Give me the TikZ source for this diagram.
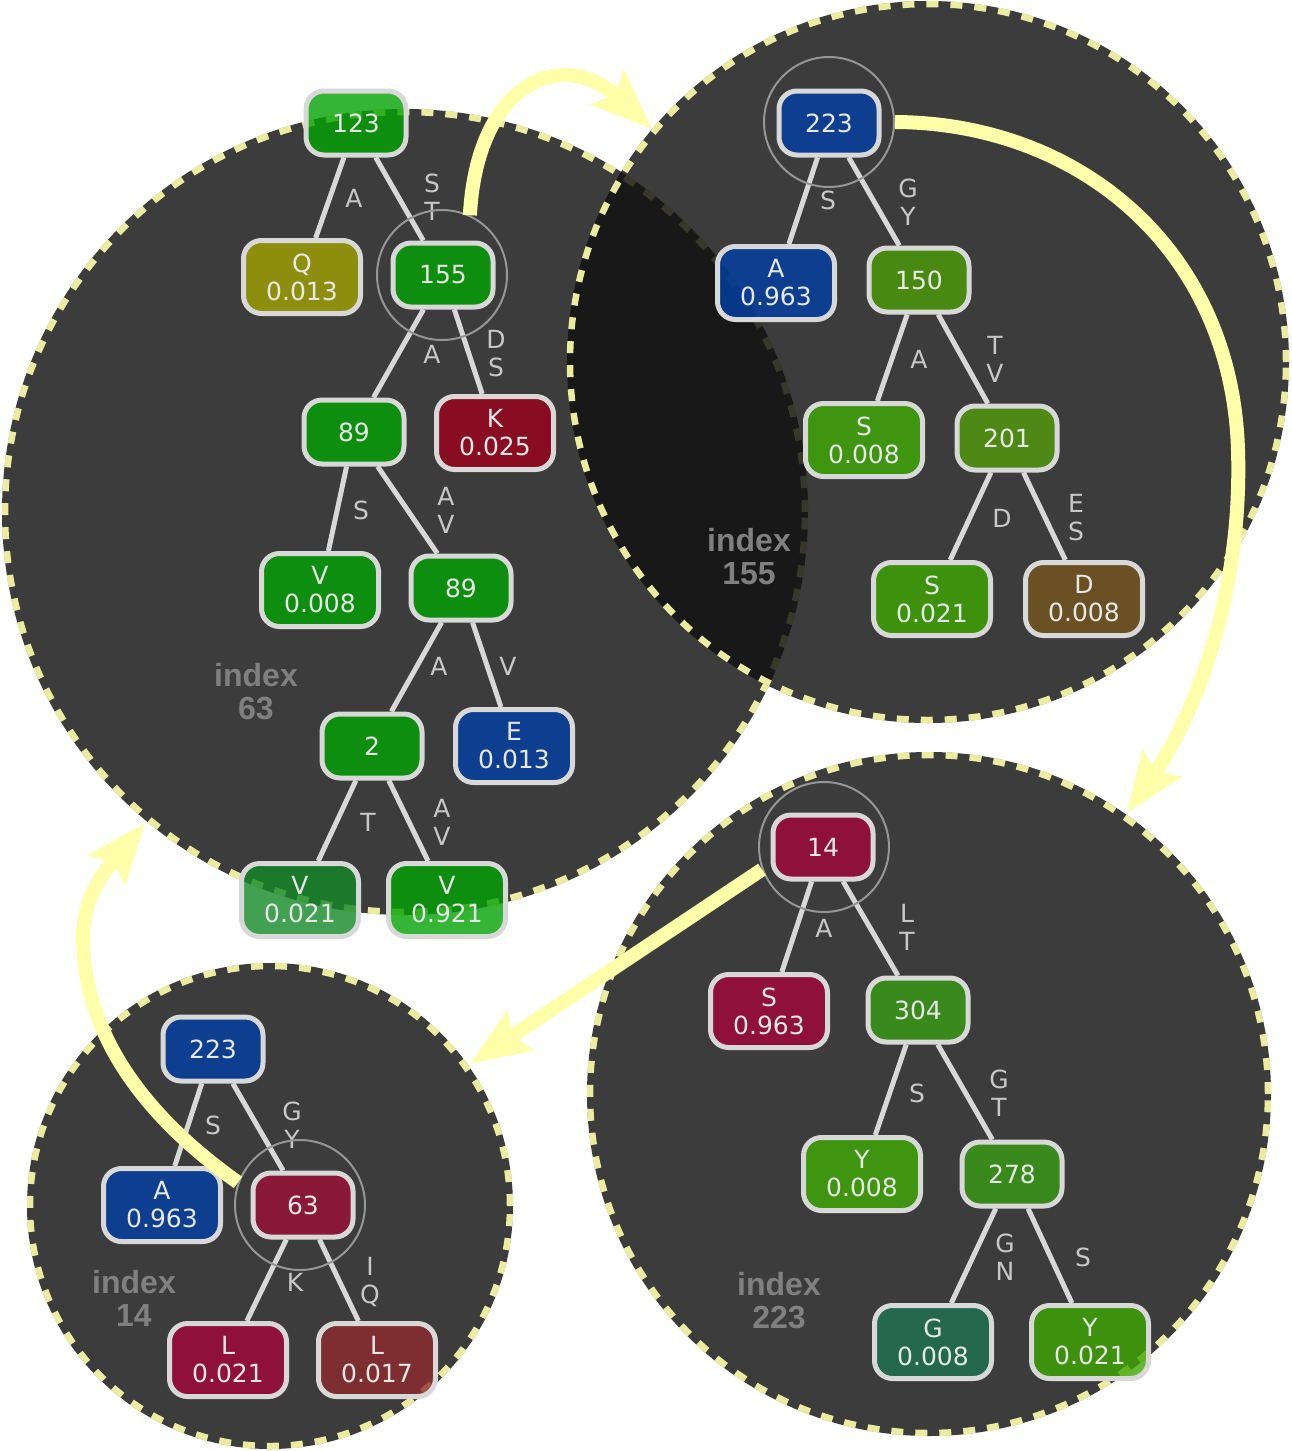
\documentclass[tikz,border=0pt]{standalone}
\usepackage{fontspec}
\setmainfont{DejaVu Sans}
\newfontfamily\idxfont{Liberation Sans}
\usetikzlibrary{arrows.meta}
\definecolor{circfill}{RGB}{16,16,16}
\definecolor{dashcol}{RGB}{236,236,160}
\definecolor{edgecol}{RGB}{216,216,216}
\definecolor{labcol}{RGB}{200,200,200}
\definecolor{txtcol}{RGB}{232,232,232}
\definecolor{idxcol}{RGB}{128,128,128}
\definecolor{arrcol}{RGB}{255,255,170}
\definecolor{hlcol}{RGB}{150,150,150}
\definecolor{cgreen}{RGB}{3,163,3}
\definecolor{colive}{RGB}{163,163,3}
\definecolor{ccrimA}{RGB}{158,0,28}
\definecolor{cblue}{RGB}{2,63,165}
\definecolor{cdkgreen}{RGB}{18,137,38}
\definecolor{colgreen}{RGB}{77,157,7}
\definecolor{cgreentwo}{RGB}{64,170,5}
\definecolor{colgreentwo}{RGB}{82,157,10}
\definecolor{cgreenthree}{RGB}{62,167,2}
\definecolor{cbrown}{RGB}{118,85,28}
\definecolor{ccrimB}{RGB}{165,5,60}
\definecolor{cgreenfour}{RGB}{58,157,20}
\definecolor{cteal}{RGB}{30,115,85}
\definecolor{ccrimC}{RGB}{158,15,55}
\definecolor{cbrownred}{RGB}{143,43,45}
\begin{document}
\begin{tikzpicture}[x=1pt,y=-1pt,
  bub/.style={fill=circfill,fill opacity=0.815},
  bubedge/.style={draw=dashcol,line width=6.5pt,dash pattern=on 12pt off 12pt},
  tnode/.style={draw=edgecol,line width=5pt,rounded corners=18pt,fill opacity=0.8,text opacity=1,text=txtcol,font=\fontsize{25}{28}\selectfont,align=center,inner sep=0pt},
  inode/.style={tnode,minimum width=100pt,minimum height=64pt},
  lnode/.style={tnode,minimum width=117pt,minimum height=73pt},
  tedge/.style={draw=edgecol,line width=5pt},
  elab/.style={text=labcol,font=\fontsize{25}{28}\selectfont,align=center,inner sep=0pt},
  idx/.style={text=idxcol,font=\idxfont\bfseries\fontsize{32}{33}\selectfont,align=center,inner sep=0pt},
  hl/.style={draw=hlcol,line width=2pt},
  flow/.style={draw=arrcol,line width=14pt,-{Stealth[length=60pt,width=46pt,inset=10pt]}}
]
\fill[white] (0,0) rectangle (1292,1451);
\useasboundingbox (0,0) rectangle (1292,1451);
% bubbles
\fill[bub] (405,512) circle[radius=403pt];
\draw[bubedge] (405,512) circle[radius=400pt];
\fill[bub] (928,362) circle[radius=361pt];
\draw[bubedge] (928,362) circle[radius=358pt];
\fill[bub] (929,1094) circle[radius=342pt];
\draw[bubedge] (929,1094) circle[radius=339pt];
\fill[bub] (270,1206) circle[radius=243pt];
\draw[bubedge] (270,1206) circle[radius=240pt];
% index labels
\node[idx] (iA) at (256,692) {index\\63};
\node[idx] (iB) at (749,557) {index\\155};
\node[idx] (iC) at (779,1301) {index\\223};
\node[idx] (iD) at (134,1298) {index\\14};
% tree A
\node[inode,fill=cgreen] (a1) at (356,123) {123};
\node[lnode,fill=colive] (a2) at (302,277) {Q\\0.013};
\node[inode,fill=cgreen] (a3) at (443,275) {155};
\node[inode,fill=cgreen] (a4) at (354,432) {89};
\node[lnode,fill=ccrimA] (a5) at (495,433) {K\\0.025};
\node[lnode,fill=cgreen] (a6) at (320,590) {V\\0.008};
\node[inode,fill=cgreen] (a7) at (461,588) {89};
\node[inode,fill=cgreen] (a8) at (372,746) {2};
\node[lnode,fill=cblue] (a9) at (514,746) {E\\0.013};
\node[lnode,fill=cdkgreen] (a10) at (300,900) {V\\0.021};
\node[lnode,fill=cgreen] (a11) at (447,900) {V\\0.921};
\draw[tedge] (a1) -- (a2);
\draw[tedge] (a1) -- (a3);
\draw[tedge] (a3) -- (a4);
\draw[tedge] (a3) -- (a5);
\draw[tedge] (a4) -- (a6);
\draw[tedge] (a4) -- (a7);
\draw[tedge] (a7) -- (a8);
\draw[tedge] (a7) -- (a9);
\draw[tedge] (a8) -- (a10);
\draw[tedge] (a8) -- (a11);
\node[elab] (la1) at (354,198) {A};
\node[elab] (la2) at (432,197) {S\\T};
\node[elab] (la3) at (432,354) {A};
\node[elab] (la4) at (496,354) {D\\S};
\node[elab] (la5) at (361,510) {S};
\node[elab] (la6) at (446,510) {A\\V};
\node[elab] (la7) at (439,666) {A};
\node[elab] (la8) at (508,666) {V};
\node[elab] (la9) at (368,822) {T};
\node[elab] (la10) at (442,822) {A\\V};
% tree B
\node[inode,fill=cblue] (b1) at (829,123) {223};
\node[lnode,fill=cblue] (b2) at (776,283) {A\\0.963};
\node[inode,fill=colgreen] (b3) at (919,280) {150};
\node[lnode,fill=cgreentwo] (b4) at (864,440) {S\\0.008};
\node[inode,fill=colgreentwo] (b5) at (1007,438) {201};
\node[lnode,fill=cgreenthree] (b6) at (932,599) {S\\0.021};
\node[lnode,fill=cbrown] (b7) at (1084,599) {D\\0.008};
\draw[tedge] (b1) -- (b2);
\draw[tedge] (b1) -- (b3);
\draw[tedge] (b3) -- (b4);
\draw[tedge] (b3) -- (b5);
\draw[tedge] (b5) -- (b6);
\draw[tedge] (b5) -- (b7);
\node[elab] (lb1) at (828,200) {S};
\node[elab] (lb2) at (908,202) {G\\Y};
\node[elab] (lb3) at (919,359) {A};
\node[elab] (lb4) at (995,359) {T\\V};
\node[elab] (lb5) at (1002,518) {D};
\node[elab] (lb6) at (1076,518) {E\\S};
% tree C
\node[inode,fill=ccrimB] (c1) at (823,847) {14};
\node[lnode,fill=ccrimB] (c2) at (769,1011) {S\\0.963};
\node[inode,fill=cgreenfour] (c3) at (918,1010) {304};
\node[lnode,fill=cgreentwo] (c4) at (862,1174) {Y\\0.008};
\node[inode,fill=cgreenfour] (c5) at (1012,1174) {278};
\node[lnode,fill=cteal] (c6) at (933,1342) {G\\0.008};
\node[lnode,fill=cgreenthree] (c7) at (1090,1342) {Y\\0.021};
\draw[tedge] (c1) -- (c2);
\draw[tedge] (c1) -- (c3);
\draw[tedge] (c3) -- (c4);
\draw[tedge] (c3) -- (c5);
\draw[tedge] (c5) -- (c6);
\draw[tedge] (c5) -- (c7);
\node[elab] (lc1) at (824,928) {A};
\node[elab] (lc2) at (907,927) {L\\T};
\node[elab] (lc3) at (917,1093) {S};
\node[elab] (lc4) at (999,1093) {G\\T};
\node[elab] (lc5) at (1005,1257) {G\\N};
\node[elab] (lc6) at (1083,1257) {S};
% tree D
\node[inode,fill=cblue] (d1) at (213,1049) {223};
\node[lnode,fill=cblue] (d2) at (162,1205) {A\\0.963};
\node[inode,fill=ccrimC] (d3) at (303,1205) {63};
\node[lnode,fill=ccrimB] (d4) at (228,1360) {L\\0.021};
\node[lnode,fill=cbrownred] (d5) at (377,1360) {L\\0.017};
\draw[tedge] (d1) -- (d2);
\draw[tedge] (d1) -- (d3);
\draw[tedge] (d3) -- (d4);
\draw[tedge] (d3) -- (d5);
\node[elab] (ld1) at (213,1125) {S};
\node[elab] (ld2) at (292,1125) {G\\Y};
\node[elab] (ld3) at (295,1282) {K};
\node[elab] (ld4) at (370,1282) {I\\Q};
% highlight rings
\node[hl,circle,minimum size=130pt,inner sep=0pt] (h1) at (442,275) {};
\node[hl,circle,minimum size=130pt,inner sep=0pt] (h2) at (829,122) {};
\node[hl,circle,minimum size=130pt,inner sep=0pt] (h3) at (824,847) {};
\node[hl,circle,minimum size=130pt,inner sep=0pt] (h4) at (300,1205) {};
% flow arrows
\coordinate (t1) at (652,129);
\coordinate (t2) at (1127,813);
\coordinate (t3) at (470,1064);
\coordinate (t4) at (145,823);
\draw[flow] (h1.65) .. controls (475,120) and (520,75) .. (565,75) .. controls (595,75) and (618,97) .. (t1);
\draw[flow] (h2.east) .. controls (1080,123) and (1232,250) .. (1238,450) .. controls (1243,610) and (1185,730) .. (t2);
\draw[flow] (h3.200) -- (t3);
\draw[flow] (h4.160) .. controls (150,1120) and (85,1040) .. (83,940) .. controls (82,890) and (115,860) .. (t4);
\end{tikzpicture}
\end{document}
